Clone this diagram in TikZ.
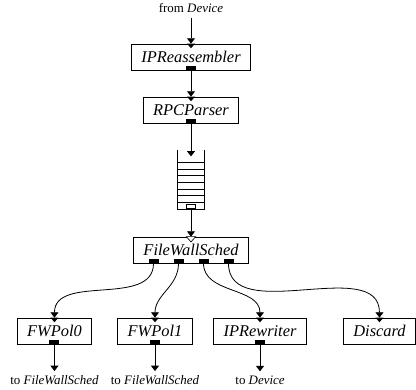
\documentclass[tikz,border=0pt]{standalone}
\usepackage{fontspec}
\setmainfont{Liberation Serif}
\usetikzlibrary{arrows.meta}
\usetikzlibrary{positioning}

\tikzset{
  element/.style={draw, line width=0.6pt, minimum height=19.5pt, inner xsep=7.5pt, inner ysep=0pt, font=\fontsize{12.3}{14}\selectfont\itshape},
  outport/.style={fill=black, minimum width=7.5pt, minimum height=3pt, inner sep=0pt, anchor=south},
  pullport/.style={draw, fill=white, line width=0.5pt, minimum width=7pt, minimum height=3pt, inner sep=0pt, anchor=south},
  conn/.style={line width=0.6pt, -{Triangle[width=6pt,length=4pt]}},
  endlabel/.style={font=\fontsize{9.7}{11}\selectfont},
}

\begin{document}
\begin{tikzpicture}[node distance=39.75pt]
\useasboundingbox (-143.25pt,-249pt) rectangle (168.75pt,42.75pt);

\node (ipreass) [element] {IPReassembler};
\node (from) [endlabel, node distance=36.6pt, above of=ipreass] {from \textit{Device}};
\node (rpcparser) [element, below of=ipreass] {RPCParser};
\node (queue) [minimum width=19.5pt, minimum height=44pt, inner sep=0pt, node distance=52pt, below of=rpcparser] {};
\node (fwsched) [element, node distance=53pt, below of=queue] {FileWallSched};

\node (fwpol1) [element, node distance=60.75pt, below of=fwsched, xshift=-27pt] {FWPol1};
\node (fwpol0) [element, node distance=75.4pt, left of=fwpol1] {FWPol0};
\node (iprewriter) [element, node distance=78.75pt, right of=fwpol1] {IPRewriter};
\node (discard) [element, node distance=89.6pt, right of=iprewriter] {Discard};

\node (to0) [endlabel, node distance=37pt, below of=fwpol0] {to \textit{FileWallSched}};
\node (to1) [endlabel, node distance=37pt, below of=fwpol1] {to \textit{FileWallSched}};
\node (to2) [endlabel, node distance=37pt, below of=iprewriter] {to \textit{Device}};

% the queue
\draw [line width=0.6pt] (queue.north west) -- (queue.south west) -- (queue.south east) -- (queue.north east);
\foreach \k in {1,...,7}
  \draw [line width=0.6pt] ([yshift=\k*5pt]queue.south west) -- ([yshift=\k*5pt]queue.south east);
\coordinate (queue-in) at ([yshift=-5pt]queue.north);

% ports
\node (ipreass-out) [outport] at (ipreass.south) {};
\node (rpcparser-out) [outport] at (rpcparser.south) {};
\node (queue-out) [pullport] at (queue.south) {};
\foreach \i/\dx in {1/-28.125pt, 2/-9.375pt, 3/9.375pt, 4/28.125pt}
  \node (fwsched-out\i) [outport, xshift=\dx] at (fwsched.south) {};
\foreach \n in {fwpol0, fwpol1, iprewriter}
  \node (\n-out) [outport] at (\n.south) {};

\foreach \n in {ipreass, rpcparser, fwpol0, fwpol1, iprewriter, discard}
  \fill (\n.north) ++(-3pt,0) -- ++(6pt,0) -- ++(-3pt,-3.5pt) -- cycle;
\filldraw [fill=white, line width=0.5pt] (fwsched.north) ++(-3.5pt,0) -- ++(7pt,0) -- ++(-3.5pt,-4pt) -- cycle;

% connections
\draw [conn] (from) -- (ipreass);
\draw [conn] (ipreass-out) -- (rpcparser);
\draw [conn] (rpcparser-out) -- (queue-in);
\draw [conn] (queue-out) -- (fwsched);

\draw [conn] (fwsched-out1) to[out=-90, in=90] (fwpol0);
\draw [conn] (fwsched-out2) to[out=-90, in=90] (fwpol1);
\draw [conn] (fwsched-out3) to[out=-90, in=90] (iprewriter);
\draw [conn] (fwsched-out4) to[out=-90, in=90] (discard);

\draw [conn] (fwpol0-out) -- (to0);
\draw [conn] (fwpol1-out) -- (to1);
\draw [conn] (iprewriter-out) -- (to2);

\end{tikzpicture}
\end{document}
